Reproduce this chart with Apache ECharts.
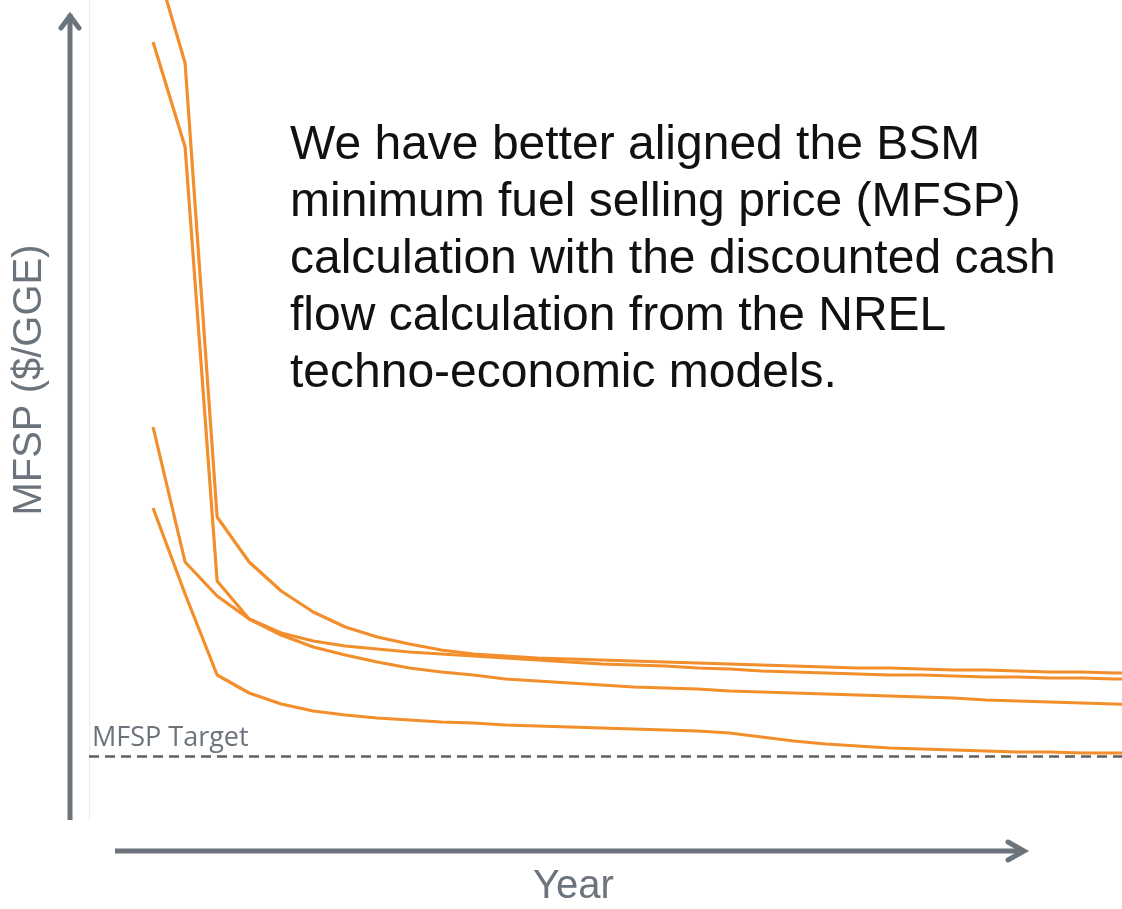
<!DOCTYPE html>
<html><head><meta charset="utf-8">
<script src="https://cdn.jsdelivr.net/npm/echarts@6/dist/echarts.min.js"></script>
<style>html,body{margin:0;padding:0;background:#fff}#c{width:1122px;height:909px}</style>
</head><body><div id="c"></div>
<script>
const years = [2017,2018,2019,2020,2021,2022,2023,2024,2025,2026,2027,2028,2029,2030,2031,2032,2033,2034,2035,2036,2037,2038,2039,2040,2041,2042,2043,2044,2045,2046,2047,2048];
const seriesA = [43.30,37.85,15.15,12.90,11.45,10.40,9.65,9.15,8.80,8.50,8.30,8.20,8.10,8.05,8.00,7.95,7.90,7.85,7.80,7.75,7.70,7.65,7.60,7.60,7.55,7.50,7.50,7.45,7.40,7.40,7.35,7.35];
const seriesB = [38.90,33.65,11.95,10.05,9.35,8.95,8.70,8.55,8.40,8.30,8.20,8.10,8.00,7.90,7.80,7.75,7.70,7.60,7.55,7.45,7.40,7.35,7.30,7.25,7.25,7.20,7.15,7.15,7.10,7.10,7.05,7.05];
const seriesC = [19.65,12.90,11.20,10.05,9.25,8.65,8.25,7.90,7.60,7.40,7.25,7.05,6.95,6.85,6.75,6.65,6.60,6.55,6.45,6.40,6.35,6.30,6.25,6.20,6.15,6.10,6.00,5.95,5.90,5.85,5.80,5.75];
const seriesD = [15.60,11.30,7.25,6.35,5.80,5.45,5.25,5.10,5.00,4.90,4.85,4.75,4.70,4.65,4.60,4.55,4.50,4.45,4.35,4.15,3.95,3.80,3.70,3.60,3.55,3.50,3.45,3.40,3.40,3.35,3.35,3.35];
const targetValue = 3.2;
const targetLabel = 'MFSP Target';
const xTitle = 'Year';
const yTitle = 'MFSP ($/GGE)';
const annotation = ['We have better aligned the BSM','minimum fuel selling price (MFSP)','calculation with the discounted cash','flow calculation from the NREL','techno-economic models.'];

const orange = '#f28e2b';
const gray = '#6b737c';
function mk(vals){ return years.map((y,i)=>[y, vals[i]]); }
function line(name, vals, extra){
  return Object.assign({name, type:'line', data: mk(vals), symbol:'none', clip:true,
    lineStyle:{color:orange, width:3.2}, itemStyle:{color:orange}, z:3}, extra||{});
}
const chart = echarts.init(document.getElementById('c'), null, {renderer:'canvas'});
chart.setOption({
  animation:false,
  backgroundColor:'#fff',
  grid:{left:89, right:0, top:0, height:820},
  xAxis:{type:'value', min:2015, max:2047.25, show:true,
    axisLine:{show:false}, axisTick:{show:false}, axisLabel:{show:false}, splitLine:{show:false}},
  yAxis:{type:'value', min:0, max:41,
    axisLine:{show:true, lineStyle:{color:'#eeeeee', width:1}}, axisTick:{show:false}, axisLabel:{show:false}, splitLine:{show:false}},
  series:[
    line('A', seriesA, {markLine:{silent:true, symbol:'none',
      lineStyle:{color:'#5f5f5f', type:[10,6], width:2.5},
      label:{show:true, position:'insideStartTop', formatter:targetLabel, color:gray, fontSize:27, fontFamily:'Open Sans', distance:[3,4]},
      data:[{yAxis:targetValue}]}}),
    line('B', seriesB),
    line('C', seriesC),
    line('D', seriesD)
  ],
  graphic:[
    {type:'line', shape:{x1:70, y1:820, x2:70, y2:14}, style:{stroke:gray, lineWidth:5}},
    {type:'polyline', shape:{points:[[61,28],[70,16],[79,28]]}, style:{stroke:gray, lineWidth:5, lineCap:'round', lineJoin:'miter', fill:null}},
    {type:'line', shape:{x1:115, y1:851, x2:1022, y2:851}, style:{stroke:gray, lineWidth:5}},
    {type:'polyline', shape:{points:[[1008,842],[1024,851],[1008,860]]}, style:{stroke:gray, lineWidth:5, lineCap:'round', fill:null}},
    {type:'text', left:533, top:867, style:{text:xTitle, fill:gray, font:'40px "Liberation Sans", Arial'}},
    {type:'text', x:30, y:380, rotation:Math.PI/2, style:{text:yTitle, fill:gray, font:'40px "Liberation Sans", Arial', align:'center', verticalAlign:'middle'}},
    {type:'text', left:290, top:117, z:10, style:{text:annotation.join('\n'), fill:'#111', font:'48px "Liberation Sans", Arial', lineHeight:57}}
  ]
});
</script></body></html>
